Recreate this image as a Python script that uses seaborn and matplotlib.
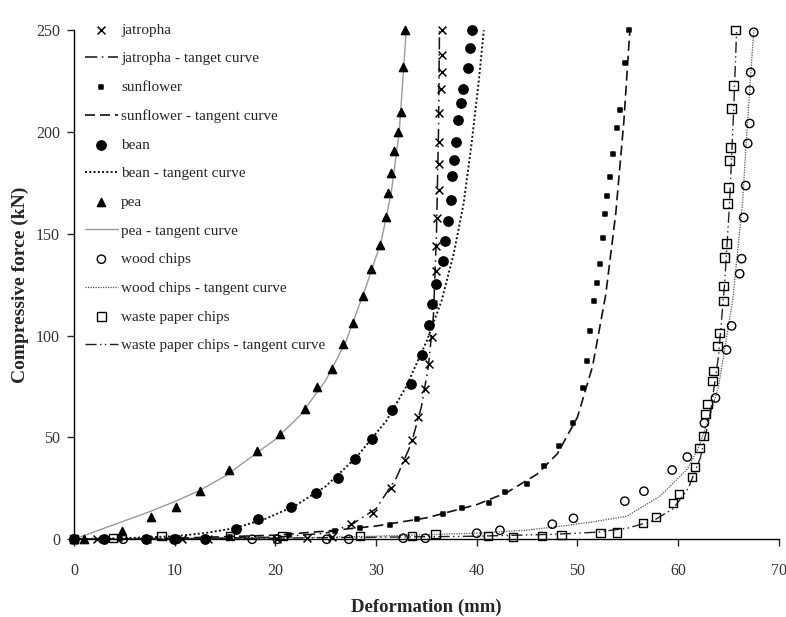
import matplotlib
matplotlib.use("Agg")
import matplotlib.pyplot as plt
import seaborn as sns

sns.set_style("ticks")
plt.rcParams['font.family'] = ['Liberation Serif', 'DejaVu Serif']

# measured points (deformation mm, force kN)
jatropha_x = [0, 2.3, 7.3, 10.7, 13.3, 20.2, 23.1, 25.6, 27.5, 29.7, 31.5, 32.9, 33.6, 34.2, 34.9,
              35.3, 35.6, 35.7, 36.0, 36.0, 36.1, 36.3, 36.3, 36.3, 36.3, 36.4, 36.5, 36.5, 36.5]
jatropha_y = [0, 0, 0, 0, 0, 0, 0.5, 1, 7.4, 12.8, 25.1, 38.9, 48.7, 60.0, 73.8,
              86.1, 99.4, 115.6, 131.9, 144.2, 158.0, 171.3, 184.1, 194.9, 209.2, 221.0, 229.3, 237.7, 250]

sunflower_x = [0, 4.6, 10.0, 15.5, 21.4, 25.9, 28.4, 31.4, 34.1, 36.6, 38.5, 41.2, 42.8, 45.0, 46.7,
               48.2, 49.6, 50.5, 50.9, 51.2, 51.6, 51.9, 52.2, 52.5, 52.7, 52.9, 53.2, 53.5, 53.9,
               54.2, 54.7, 55.1]
sunflower_y = [0, 0, 0.5, 1, 2, 3.9, 5.4, 6.9, 9.8, 12.3, 15.3, 17.7, 23.1, 27.1, 35.9,
               45.8, 57.1, 74.3, 87.6, 102.4, 117.1, 126.0, 135.3, 148.1, 159.9, 168.8, 177.7, 189.0, 201.8,
               210.6, 233.8, 250]

bean_x = [0, 3.0, 7.2, 9.9, 13.0, 16.1, 18.3, 21.6, 24.0, 26.2, 27.9, 29.6, 31.6, 33.5, 34.6, 35.3,
          35.6, 36.0, 36.6, 36.8, 37.1, 37.4, 37.5, 37.7, 37.9, 38.1, 38.4, 38.6, 39.1, 39.3, 39.5]
bean_y = [0, 0, 0, 0, 0, 4.9, 9.8, 15.7, 22.6, 30.0, 39.4, 49.2, 63.5, 76.3, 90.6, 105.3,
          115.7, 125.5, 136.8, 146.7, 156.5, 166.8, 178.6, 186.5, 194.9, 205.7, 214.1, 221.0, 231.3, 241.1, 250]

pea_x = [0, 1.0, 4.77, 7.65, 10.1, 12.5, 15.4, 18.2, 20.5, 22.9, 24.1, 25.6, 26.7, 27.7, 28.7,
         29.5, 30.4, 31.0, 31.2, 31.5, 31.8, 32.2, 32.5, 32.7, 32.9]
pea_y = [0, 0, 3.9, 10.8, 15.7, 23.6, 34.0, 43.3, 51.7, 64.0, 74.8, 83.7, 96.0, 106.3, 119.6,
         132.9, 144.7, 158.5, 170.3, 180.1, 190.9, 199.8, 209.6, 231.8, 250]

wood_x = [0, 4.9, 10.2, 17.7, 20.2, 25.1, 27.3, 32.7, 34.9, 40.0, 42.3, 47.5, 49.6, 54.7, 56.6,
          59.4, 60.9, 62.6, 63.7, 64.8, 65.3, 66.1, 66.3, 66.5, 66.7, 66.9, 67.1, 67.1, 67.2, 67.5]
wood_y = [0, 0, 0, 0, 0, 0, 0, 0.5, 0.5, 3.0, 4.4, 7.4, 10.3, 18.7, 23.6,
          34.0, 40.4, 57.1, 69.4, 93.0, 104.8, 130.4, 137.8, 158.0, 173.7, 194.4, 204.2, 220.5, 229.3, 249]

paper_x = [0, 3.9, 8.7, 15.5, 20.7, 28.4, 33.6, 35.9, 41.1, 43.6, 46.5, 48.4, 52.3, 53.9, 56.5,
           57.8, 59.5, 60.1, 61.4, 61.7, 62.1, 62.5, 62.7, 62.9, 63.4, 63.5, 63.9, 64.1, 64.5, 64.5,
           64.6, 64.8, 64.9, 65.0, 65.1, 65.2, 65.3, 65.5, 65.7]
paper_y = [0, 0.5, 1.5, 1.5, 1.5, 1.5, 1.5, 2.5, 1.5, 1.0, 1.5, 2.0, 3.0, 3.4, 7.9,
           10.8, 17.7, 22.1, 30.5, 35.4, 44.8, 50.7, 61.5, 66.4, 77.8, 82.7, 95.0, 101.4, 117.1, 124.5,
           138.3, 145.2, 164.9, 172.7, 186.0, 192.4, 211.6, 222.9, 250]

# tangent curves
jatropha_cx = [0, 10, 20, 25, 27.5, 30, 32, 33.5, 34.5, 35.2, 35.7, 36.0, 36.2, 36.3]
jatropha_cy = [0, 0.2, 1, 3, 7, 15, 30, 47, 65, 85, 110, 150, 200, 250]
sunflower_cx = [0, 10, 20, 25, 30, 35, 40, 43, 46, 48, 50, 51.5, 52.8, 53.8, 54.6, 55.2]
sunflower_cy = [0, 0.5, 2, 4, 6.5, 10.5, 17, 23, 32, 42, 60, 85, 120, 160, 205, 250]
bean_cx = [0, 5, 10, 13, 16, 19, 22, 25, 28, 31, 33, 35, 36.5, 37.7, 38.7, 39.5, 40.2, 40.7]
bean_cy = [0, 0.5, 1.5, 3, 5.5, 10, 16.5, 26, 40, 58, 75, 97, 117, 140, 165, 195, 225, 250]
pea_cx = [0, 2.5, 5, 7.5, 10, 12.5, 15, 17.5, 20, 22.5, 25, 27, 29, 30.5, 31.5, 32.3, 33]
pea_cy = [0, 4.5, 9, 13.5, 18.5, 24, 31, 40, 49, 61, 78, 97, 124, 146, 170, 200, 250]
wood_cx = [0, 20, 30, 40, 45, 48.3, 51.5, 54.9, 58.2, 60.9, 62.0, 63.2, 64.0, 65.4, 66.4, 66.8, 67.5]
wood_cy = [0, 0.5, 1.5, 3, 4.5, 6.4, 8.5, 11.3, 21.2, 34.4, 44.8, 61.5, 75, 117, 166, 199, 250]
paper_cx = [0, 20, 40, 48, 52, 55, 57.5, 59.5, 61, 62.2, 63.2, 64.0, 64.6, 65.1, 65.5, 65.8]
paper_cy = [0, 0.5, 1.5, 2.5, 3.5, 5.5, 9, 15, 25, 40, 62, 90, 125, 165, 210, 250]

fig, ax = plt.subplots(figsize=(7.86, 6.17), dpi=100)
fig.subplots_adjust(left=0.094, right=0.991, bottom=0.126, top=0.951)

def curve(xs, ys, label, color, ls, lw):
    sns.lineplot(x=xs, y=ys, ax=ax, sort=False, estimator=None, color=color,
                 linestyle=ls, linewidth=lw, label=label)

def points(xs, ys, label, marker, size, filled=True):
    sns.scatterplot(x=xs, y=ys, ax=ax, marker=marker, s=size, label=label, zorder=3,
                    color='black' if filled else 'none', edgecolor='black',
                    linewidth=1.1 if filled else 1.0, clip_on=False)

points(jatropha_x, jatropha_y, 'jatropha', 'x', 32)
curve(jatropha_cx, jatropha_cy, 'jatropha - tanget curve', '#111111', (0, (8, 3, 1, 3)), 1.1)
points(sunflower_x, sunflower_y, 'sunflower', 's', 6)
curve(sunflower_cx, sunflower_cy, 'sunflower - tangent curve', '#111111', (0, (6, 3)), 1.2)
points(bean_x, bean_y, 'bean', 'o', 44)
curve(bean_cx, bean_cy, 'bean - tangent curve', '#111111', (0, (1, 1.2)), 1.4)
points(pea_x, pea_y, 'pea', '^', 34)
curve(pea_cx, pea_cy, 'pea - tangent curve', '#9a9a9a', '-', 1.0)
points(wood_x, wood_y, 'wood chips', 'o', 36, filled=False)
curve(wood_cx, wood_cy, 'wood chips - tangent curve', '#555555', (0, (1, 1)), 0.9)
points(paper_x, paper_y, 'waste paper chips', 's', 36, filled=False)
curve(paper_cx, paper_cy, 'waste paper chips - tangent curve', '#222222', (0, (8, 2.5, 1, 2.5, 1, 2.5)), 1.0)

ax.set_xlim(0, 70)
ax.set_ylim(0, 250)
ax.set_xticks(range(0, 71, 10))
ax.set_yticks(range(0, 251, 50))
ax.tick_params(axis='both', direction='out', length=5, width=1, labelsize=11.5,
               labelcolor='#333333')
ax.tick_params(axis='x', pad=12)
ax.tick_params(axis='y', pad=5)
sns.despine(ax=ax)
for sp in ['left', 'bottom']:
    ax.spines[sp].set_linewidth(1.0)
    ax.spines[sp].set_color('black')

ax.set_xlabel('Deformation (mm)', fontsize=13.5, fontweight='bold', labelpad=14)
ax.set_ylabel('Compressive force (kN)', fontsize=14, fontweight='bold', labelpad=5)

order = ['jatropha', 'jatropha - tanget curve', 'sunflower', 'sunflower - tangent curve',
         'bean', 'bean - tangent curve', 'pea', 'pea - tangent curve',
         'wood chips', 'wood chips - tangent curve', 'waste paper chips',
         'waste paper chips - tangent curve']
handles, labels = ax.get_legend_handles_labels()
lookup = dict(zip(labels, handles))
ax.legend([lookup[k] for k in order], order, loc='upper left', bbox_to_anchor=(0.0, 1.035),
          frameon=False, fontsize=11, handlelength=2.2, handletextpad=0.2,
          labelspacing=0.98, borderaxespad=0.3)

fig.savefig('out.png', dpi=100)
